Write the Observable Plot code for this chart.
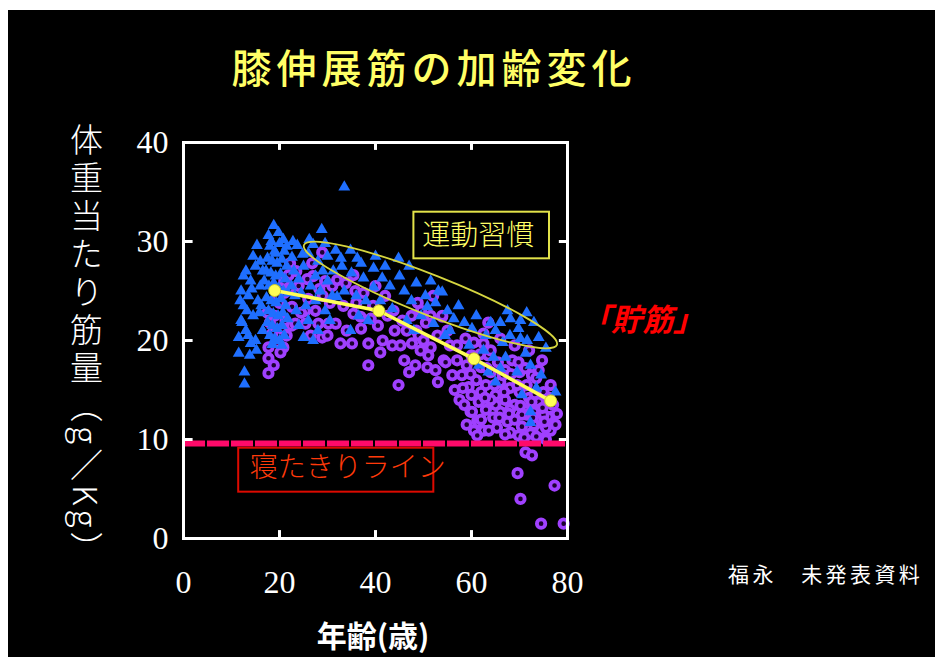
<!DOCTYPE html>
<html><head><meta charset="utf-8">
<script src="https://cdn.jsdelivr.net/npm/d3@7"></script>
<script src="https://cdn.jsdelivr.net/npm/@observablehq/plot@0.6"></script>
<style>
html,body{margin:0;padding:0;background:#fff;}
#wrap{position:relative;width:942px;height:657px;overflow:hidden;}
#bg{position:absolute;left:8px;top:10px;width:927px;height:647px;background:#000;}
#chart{position:absolute;left:0;top:0;}
.t{position:absolute;white-space:nowrap;line-height:1;font-family:"Noto Sans CJK JP","Noto Sans",sans-serif;}
#title{left:434px;top:66px;transform:translate(-50%,-50%);font-size:40px;font-weight:500;color:#ffff66;letter-spacing:5px;}
#ylab{left:86px;top:123px;transform:translateX(-50%);writing-mode:vertical-rl;font-size:33px;font-weight:300;color:#fff;letter-spacing:5px;}
#ylab span{font-size:33px;letter-spacing:4px;}
#xlab{left:373px;top:634px;transform:translate(-50%,-50%);font-size:30px;font-weight:bold;color:#fff;}
#chokin{left:580px;top:302px;font-size:31px;font-weight:bold;font-style:italic;color:#ff0000;}
#source{left:728px;top:563px;font-size:21px;color:#fff;letter-spacing:3.4px;}
</style></head>
<body>
<div id="wrap">
  <div id="bg"></div>
  <div id="chart"></div>
  <div class="t" id="title">膝伸展筋の加齢変化</div>
  <div class="t" id="ylab">体重当たり筋量<span>（g／Kg）</span></div>
  <div class="t" id="xlab">年齢(歳)</div>
  <div class="t" id="chokin">「貯筋」</div>
  <div class="t" id="source">福永　未発表資料</div>
</div>
<script>
// ---- data (age, muscle per body weight g/kg) ----
const xTicks = [0, 20, 40, 60, 80];
const yTicks = [0, 10, 20, 30, 40];
const innerXTicks = [20, 40, 60];
const innerYTicks = [10, 20, 30];

const groupBlue = [
  [11.5,20.3],[11.5,18.7],[12.7,16.8],[12.7,15.6],[14,19.7],[12,22],[12.5,23.5],[13,21],[13.5,24.5],[12,25],
  [14,26],[13,27],[15,27.5],[15.3,29.6],[16,28],[14.5,22.5],[15.5,24],[16,25.5],[13.5,20.5],[16.5,21],
  [15,20],[12.5,26.5],[14.5,28.5],[16.5,27],[11.8,24],[13.2,23],[15.8,22.8],[14.2,25.2],[16.2,23.5],[12.2,21.8],
  [13.8,18.5],[15.2,19],[16.8,26],
  [17.7,30.6],[18.8,31.6],[19.8,30.9],[18,29.5],[19,29],[20,29.8],[21,29],[17.5,28.3],[18.5,28],[19.5,27.8],
  [20.5,28.2],[21.5,27.5],[17.2,27],[18.2,26.8],[19.2,26.5],[20.2,26.7],[21.2,26.2],[17.8,25.5],[18.8,25.8],[19.8,25.3],
  [20.8,25],[21.8,24.8],[17.3,24.3],[18.3,24],[19.3,23.8],[20.3,24.2],[21.3,23.5],[17.7,23],[18.7,22.7],[19.7,22.5],
  [20.7,22.8],[21.7,22.2],[17.5,21.8],[18.5,21.5],[19.5,21.2],[20.5,21.5],[18,20.5],[19,20.2],[20,20],[21,20.5],
  [18.5,19.6],[20.5,19.5],[19.2,28.8],[20.8,30.2],[18.3,30],[21.5,29.5],
  [23.7,29.6],[22.6,28.4],[28.8,31.2],[23,27],[24,26.2],[25,27.5],[26,28.8],[27,29.7],[28,28],[29,27],
  [30,28.5],[31.7,29.1],[22.5,25.5],[24.5,24.8],[26.5,25.5],[28.5,25],[30,26],[31,24.5],[23.5,23],[25.5,23.5],
  [27.5,24],[29.5,23],[32,24.4],[24,21.5],[26,22],[28,21],[30.5,22],[25,20.3],[27,20],[22.8,30],
  [26.2,30.2],[29.5,29.8],[24.8,28.7],[27.5,26.5],[31.2,27],[23.2,24.5],
  [33.5,35.5],[34.8,29.1],[36.2,28.3],[33,27.5],[35,26.8],[37.5,26.3],[39.6,27.3],[41.4,26.3],[39.6,25.4],[34.8,21],
  [36,24.5],[38,24],[40,28.5],[42,27.5],[43,25.5],[44.8,28.3],[33.5,25],[36.5,22.5],[41,24],[43.5,23.2],
  [38.5,22],[45,26.5],[32.8,28.3],[37,27.8],
  [50.4,24.5],[53.1,25],[50.8,23.4],[52.1,21.7],[53.9,24.9],[46,25],[47.5,24],[48.5,25.8],[49.5,22.5],[51.5,26],
  [46.5,22],[48,21],[55,23],[54.5,20.5],[47,27.5],[52.5,23.8],[56.3,22.2],[55.5,21],
  [57.3,23.5],[60.1,21.2],[66,21.8],[68.1,22.2],[70.2,22],[69.8,21.2],[65,21],[70.2,20.2],[71.6,20],[67.1,18.3],
  [71.25,18.7],[72.3,17.5],[69.5,16.8],[65,15.8],[72.3,12.8],[72.3,11.7],[77.5,14.8],[64.6,18.3],[62.5,19],[58.5,21.8],
  [61,22.5],[63,20.5],[66.5,19.8],[68,20.5],[73,21.8],[74,20.3],[61.5,17.5],[64,21.8],[67.5,23],[59.5,19.5],
  [70.5,14.5],[74.5,16.5],[63.5,16.8],[66,17.2],[71.5,22.8],[75.5,19.2],[73.5,15.2]
];

const groupPurple = [
  [17.7,16.7],[17.7,18.2],[17.7,19.3],[18.5,20.7],[20.8,19.3],[20.2,18.8],[21.25,22],[22.6,23.4],[21.9,26.6],[18,21.8],
  [19,22.5],[20,23.8],[21,24.8],[22,25.2],[19.5,19.8],[21.5,20.5],[22.5,21.5],[18.8,17.5],[20.5,21.2],[22.2,27.8],
  [21,26],[17.5,22.8],[19.5,24.5],
  [25.4,21.7],[28.1,21.7],[28.9,20.3],[28.9,28.9],[25.4,23],[23.3,21.7],[30.2,21.7],[24,25.5],[26,24.2],[27,26.5],
  [29,24.5],[30.5,23.8],[31.7,21.7],[24.5,22.8],[26.5,20.5],[27.5,23],[29.5,26],[31,25.5],[32,26.1],[23.5,27],
  [26.8,27.8],[30,20.5],[25.8,26.2],[28.3,25.2],
  [35.4,26.6],[35.8,25],[33.3,23.5],[35.4,22.7],[36.9,22.4],[32.7,19.7],[35.1,19.7],[38.5,19.7],[38.5,17.5],[43.75,23],
  [45.6,22],[45.2,19.5],[34,21],[37,21.2],[39.5,23.5],[40.5,21.5],[41.5,20],[42.5,22.5],[43.5,19.5],[44.8,15.5],
  [37.5,24.8],[40,25.5],[42,24.5],[44,21],[36,23.8],[39,22.2],[41,18.8],[33.8,25.8],
  [47.6,19.7],[49.4,19],[51.5,19.3],[48.3,17.5],[50.8,17.3],[53.9,22.4],[54.2,18],[52.9,20.5],[53.9,22.5],[54.6,17.8],
  [46.5,21],[47.5,22.5],[48.5,21],[49.5,23],[50.5,21.8],[51.5,22.5],[52,24.5],[46,18],[47,16.8],[49,20.5],
  [50,20],[51,18.5],[52.5,17],[55.5,19.5],[55,21],[56,16.5],[53,15.8],[48.8,23.8],
  [58.75,20.2],[62.5,20.7],[62.5,19.7],[63.5,18.5],[74.7,18],[72.6,16.5],[59.8,12.8],[61.2,11.9],[62.5,10.9],[76.5,12.3],
  [74.4,10.9],[60.1,12.8],[61.5,11.7],[60.5,10.9],[63.6,10.9],[65.3,11.2],[68.1,10.7],[69.8,10.4],[72.3,10.6],[74.4,12.1],
  [76,12.3],[76.5,10.9],[59.4,15.3],[57,18],[58,16.5],[59,17.5],[60,18.5],[61,16],[62,17.3],[63,15.5],
  [64,16.8],[65,14.5],[66,15.8],[67,14],[68,15.2],[69,13.5],[70,14.8],[71,13],[72,14.2],[73,12.8],
  [74,13.8],[75,12.5],[57.5,14],[58.5,13.5],[60,14.5],[61.5,13.8],[63,13],[64.5,12.2],[66,12.8],[67.5,11.8],
  [69,12],[70.5,11.3],[71.5,12.5],[73,11.5],[75.5,11.2],[77,13.5],[60.5,19.8],[64,19],[65.5,17.8],[67,17],
  [68.5,18],[70,16.8],[71.5,15.5],[73.5,16.2],[75,14.8],[76.5,15.5],[62,14.8],[65,13.5],[68,13],[70.5,12.5],
  [66.5,16.5],[69.5,15.5],[72.5,13.8],[64,14],[59,11.5],[62,12],[67,10.5],[71,10.2],[73.5,10.3],[75.5,10],
  [77.5,11.5],[57,19.5],[56.5,15],[63.5,21.8],[66,20.2],[69,19.5],[72,19],[74,17],
  [58.2,15.2],[59.8,16.6],[61.8,18.6],[63.2,17.2],[64.8,15.5],[66.8,14.8],[68.2,16.6],[69.8,17.8],[71.2,17.2],[73.2,14.6],
  [74.8,13.2],[76.2,14.2],[62.8,14.2],[65.8,12.2],[67.8,12.6],[70.2,13.4],[72.8,12.2],[75.2,11.8],[77.8,12.6],[61.2,10.4],
  [71.25,8.7],[72.6,8.4],[69.6,6.6],[70.2,4.0],[77.3,5.35],[74.5,1.5],[79.2,1.5]
];

const meanAges = [19, 40.7, 60.5, 76.5];
const meanValues = [25.05, 23.0, 18.15, 13.9];
const bedriddenLevel = [9.6];

// annotation anchors (data units)
const exerciseEllipseEnds = [[25.2, 29.6], [77.9, 19.5]];
const exerciseBox = [{x1: 48.0, x2: 76.25, y1: 28.25, y2: 32.96}];
const exerciseText = [{x: 61.4, y: 30.6, label: "運動習慣"}];
const bedBox = [{x1: 11.5, x2: 52.15, y1: 4.68, y2: 9.12}];
const bedText = [{x: 34.2, y: 7.1, label: "寝たきりライン"}];

const meanPts = meanAges.map((a, i) => [a, meanValues[i]]);

function ellipseMark(index, scales) {
  const {x, y} = scales;
  const [p, q] = exerciseEllipseEnds;
  const ax = x(p[0]), ay = y(p[1]), bx = x(q[0]), by = y(q[1]);
  const cx = (ax + bx) / 2, cy = (ay + by) / 2;
  const rx = Math.hypot(bx - ax, by - ay) / 2;
  const ang = Math.atan2(by - ay, bx - ax) * 180 / Math.PI;
  const e = document.createElementNS("http://www.w3.org/2000/svg", "ellipse");
  e.setAttribute("cx", cx); e.setAttribute("cy", cy);
  e.setAttribute("rx", rx); e.setAttribute("ry", 20);
  e.setAttribute("transform", `rotate(${ang} ${cx} ${cy})`);
  e.setAttribute("fill", "none");
  e.setAttribute("stroke", "#d6d640");
  e.setAttribute("stroke-width", 1.8);
  return e;
}

const serif = "Liberation Serif, Times New Roman, serif";
const cjk = "Noto Sans CJK JP, sans-serif";

const chart = Plot.plot({
  width: 942,
  height: 657,
  marginLeft: 183,
  marginRight: 375,
  marginTop: 142,
  marginBottom: 119,
  style: {background: "transparent", color: "white", overflow: "visible"},
  x: {domain: [0, 80]},
  y: {domain: [0, 40]},
  marks: [
    Plot.dot(groupPurple, {x: d => d[0], y: d => d[1], r: 4.2, stroke: "#a040ff", strokeWidth: 3.8, fill: "#1c0030"}),
    Plot.dot(groupBlue, {x: d => d[0], y: d => d[1], symbol: "triangle", r: 4.4, fill: "#1f6fff", stroke: "none"}),
    ellipseMark,
    Plot.line(meanPts, {x: d => d[0], y: d => d[1], stroke: "#ffff55", strokeWidth: 3.5}),
    Plot.dot(meanPts, {x: d => d[0], y: d => d[1], r: 6, fill: "#ffff55", stroke: "#c8c830", strokeWidth: 1}),
    Plot.ruleY(bedriddenLevel, {stroke: "#ff0a6a", strokeWidth: 6, strokeDasharray: "22 2"}),
    Plot.rect(exerciseBox, {x1: "x1", x2: "x2", y1: "y1", y2: "y2", fill: "none", stroke: "#e3e34a", strokeWidth: 2}),
    Plot.text(exerciseText, {x: "x", y: "y", text: "label", fill: "#ffff66", fontSize: 28, fontWeight: 300, fontFamily: cjk}),
    Plot.rect(bedBox, {x1: "x1", x2: "x2", y1: "y1", y2: "y2", fill: "none", stroke: "#dd0a00", strokeWidth: 2}),
    Plot.text(bedText, {x: "x", y: "y", text: "label", fill: "#ff3a0a", fontSize: 28, fontWeight: 300, fontFamily: cjk}),
    Plot.ruleX(innerXTicks, {y1: 0, y2: 0.8, stroke: "white", strokeWidth: 3}),
    Plot.ruleX(innerXTicks, {y1: 40, y2: 39.2, stroke: "white", strokeWidth: 3}),
    Plot.ruleY(innerYTicks, {x1: 0, x2: 2, stroke: "white", strokeWidth: 3}),
    Plot.ruleY(innerYTicks, {x1: 80, x2: 78.3, stroke: "white", strokeWidth: 3}),
    Plot.frame({stroke: "white", strokeWidth: 3}),
    Plot.axisX({ticks: xTicks, tickSize: 0, tickPadding: 32, label: null, fontSize: 32, fontFamily: serif, fill: "white"}),
    Plot.axisY({ticks: yTicks, tickSize: 0, tickPadding: 15, label: null, fontSize: 32, fontFamily: serif, fill: "white"})
  ]
});
document.getElementById("chart").appendChild(chart);
</script>
</body></html>
